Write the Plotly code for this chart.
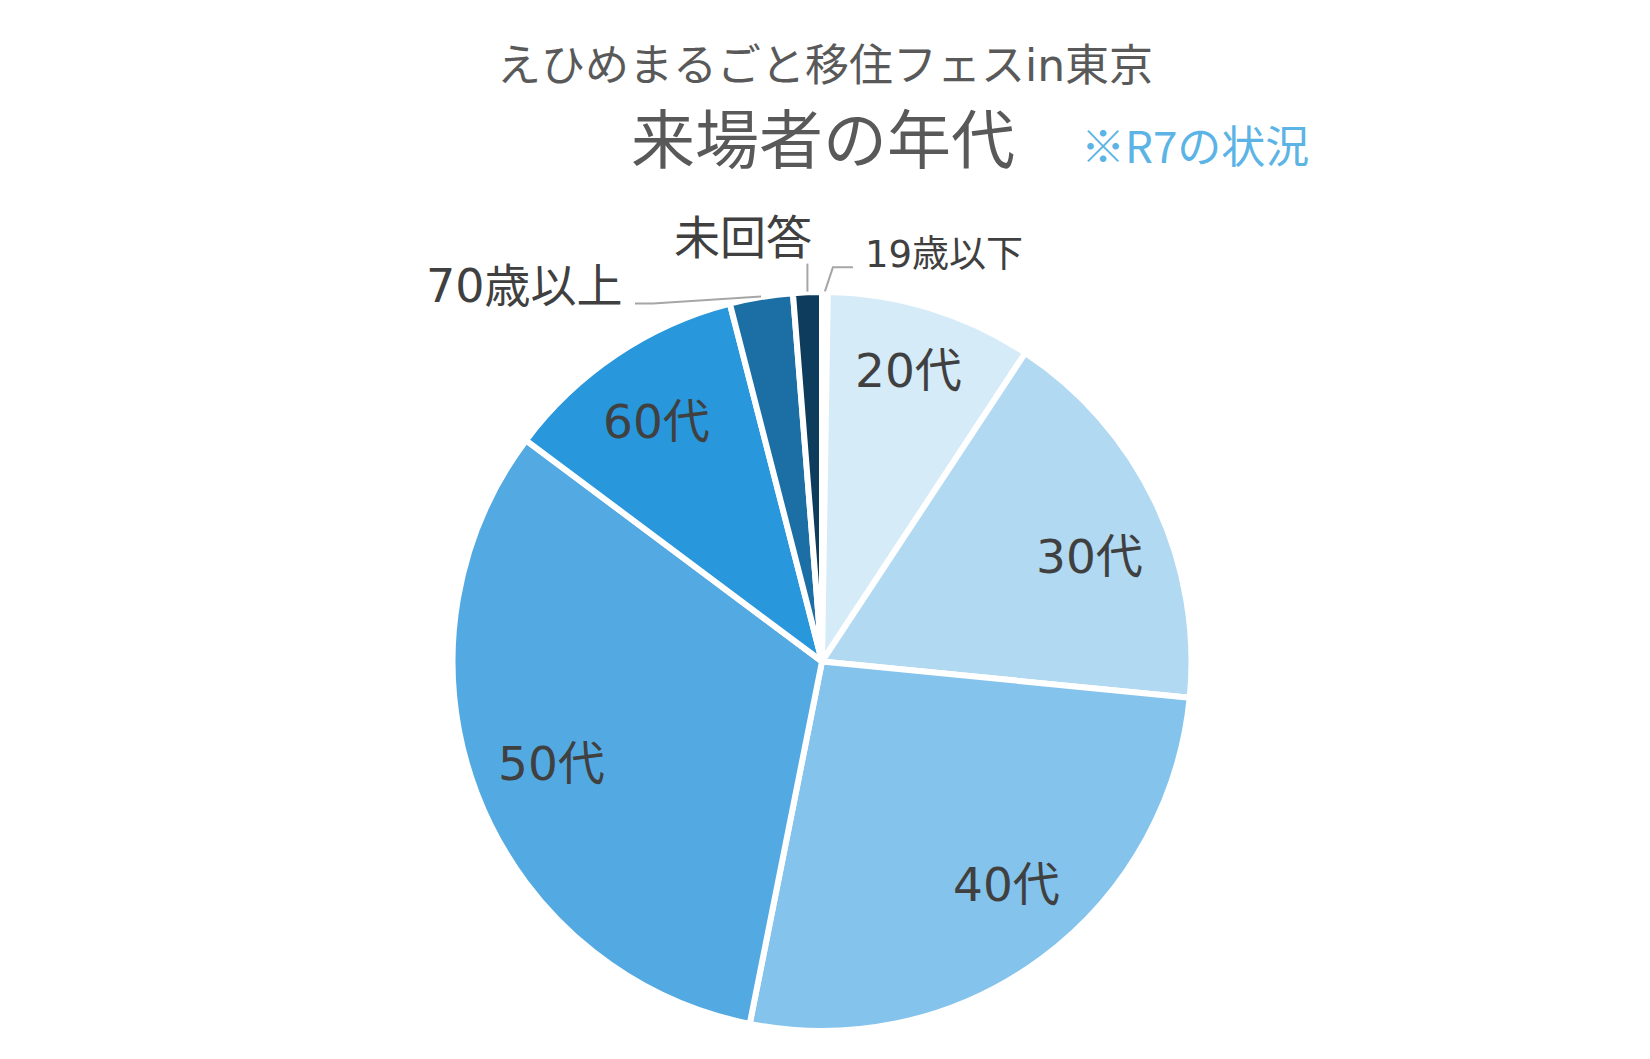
import math
import plotly.graph_objects as go

# 来場者の年代（R7）
labels = ["19歳以下", "20代", "30代", "40代", "50代", "60代", "70歳以上", "未回答"]
counts = [1, 36, 69, 106, 128, 43, 11, 5]
colors = ["#EBF5FB", "#D6EBF8", "#B1D9F2", "#84C3EC", "#53AAE2", "#2897DC", "#1B6FA5", "#0E3C5C"]

W, H = 1650, 1059
OFF = 8                  # page body margin
M_T, M_B = 292 - OFF, 28 + OFF
PH = H - M_T - M_B
CX, CY = 822, 661.5      # pie centre on screen
R = 366.5                # visible radius
BORDER = 6

half = PH / 2 / W
dom_x = [(CX - OFF) / W - half, (CX - OFF) / W + half]

FONT = "DejaVu Sans, Noto Sans CJK JP"
JP = "Noto Sans CJK JP"


def paper(x, y):
    return (x - OFF) / W, (H - M_B - (y - OFF)) / PH


def edge(angle_deg, k):
    a = math.radians(angle_deg)
    return CX + k * R * math.sin(a), CY - k * R * math.cos(a)


# slice mid angles (clockwise from 12 o'clock)
total = sum(counts)
mids = []
acc = 0
for c in counts:
    mids.append((acc + c / 2) / total * 360)
    acc += c

fig = go.Figure(go.Pie(
    labels=labels,
    values=counts,
    sort=False,
    direction="clockwise",
    rotation=0,
    marker=dict(colors=colors, line=dict(color="white", width=BORDER)),
    textinfo="none",
    hoverinfo="label+value+percent",
    domain=dict(x=dom_x, y=[0, 1]),
    showlegend=False,
))

ann = []
font_lbl = dict(family=FONT, size=47, color="#404040")


def text(x, y, s, font, anchor="center"):
    px, py = paper(x, y)
    ann.append(dict(x=px, y=py, xref="paper", yref="paper", text=s,
                    showarrow=False, font=font,
                    xanchor=anchor, yanchor="middle"))


# labels inside the big slices (nudged like the original best-fit placement)
nudge = {1: (0, -12), 2: (3, 20), 3: (10, -14), 4: (3, -4), 5: (-2, 3)}
for i in range(1, 6):
    x, y = edge(mids[i], 0.8)
    dx, dy = nudge[i]
    text(x + dx, y + dy + 1, labels[i], font_lbl)

# small slices: labels outside with leader lines
paths = []

ex, ey = edge(mids[6], 1.01)
paths.append([(ex, ey), (653, ey + 7), (635, ey + 7)])
text(625, 286, labels[6], dict(font_lbl, size=46), "right")

ex, ey = edge(mids[7], 1.01)
paths.append([(ex, ey), (ex, ey - 28)])
text(743, 238, labels[7], dict(font_lbl, size=46))

ex, ey = edge(mids[0], 1.01)
paths.append([(ex, ey), (ex + 8, ey - 24), (ex + 28, ey - 24)])
text(863, 255, labels[0], dict(font_lbl, size=37), "left")

shapes = []
for pts in paths:
    p = [paper(*q) for q in pts]
    path = "M " + " L ".join(f"{a:.5f},{b:.5f}" for a, b in p)
    shapes.append(dict(type="path", path=path, xref="paper", yref="paper",
                       line=dict(color="#A6A6A6", width=2)))

# titles
text(825, 65, "えひめまるごと移住フェスin東京", dict(family=FONT, size=44, color="#595959"))
text(823, 135, "来場者の年代", dict(family=JP, size=64, color="#595959"))
text(1079, 144, "※R7の状況", dict(family=JP, size=44, color="#5BB4E5"), "left")

fig.update_layout(
    width=W, height=H,
    margin=dict(l=0, r=0, t=M_T, b=M_B),
    paper_bgcolor="white",
    plot_bgcolor="white",
    annotations=ann,
    shapes=shapes,
)

fig.write_html("out.html")
